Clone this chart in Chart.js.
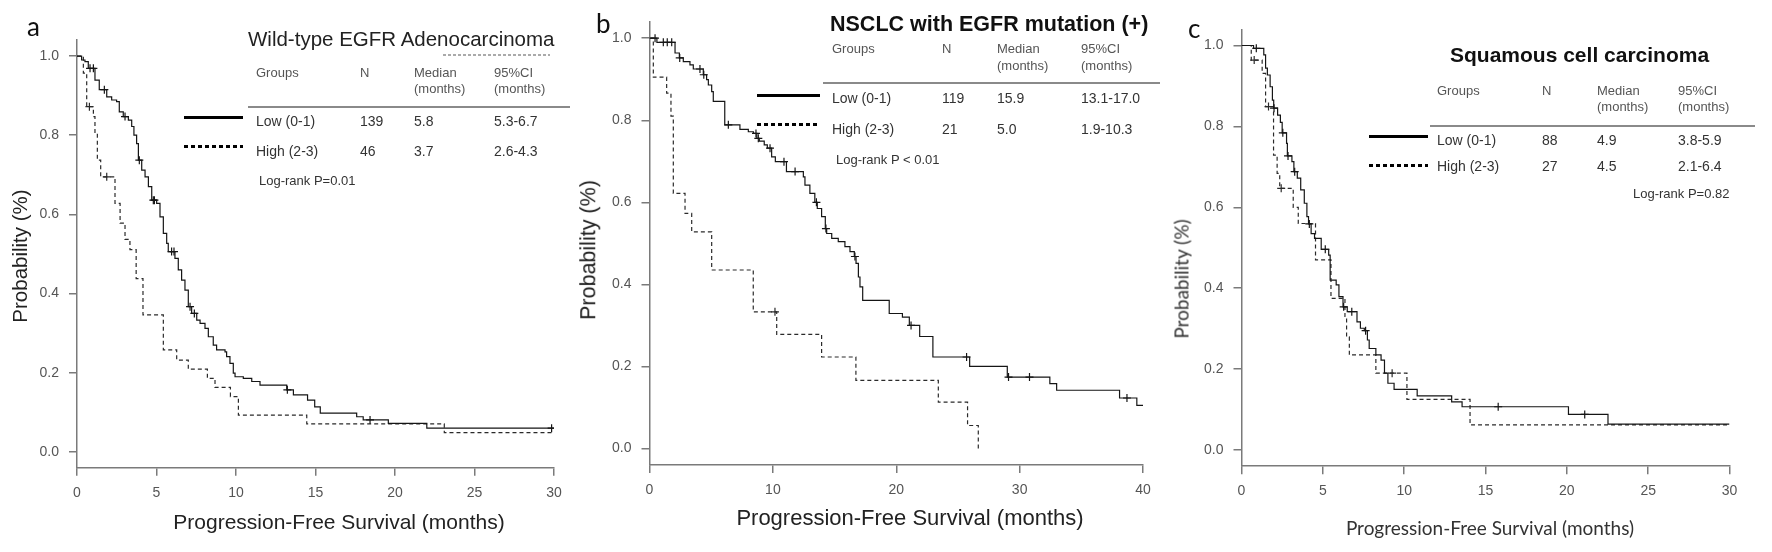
<!DOCTYPE html>
<html><head><meta charset="utf-8">
<script src="https://cdn.jsdelivr.net/npm/chart.js@4.4.1/dist/chart.umd.min.js"></script>
<style>
html,body{margin:0;padding:0;background:#fff;}
#wrap{position:relative;width:1772px;height:552px;overflow:hidden;background:#fff;}
canvas{position:absolute;top:0;}
.t{position:absolute;white-space:nowrap;line-height:1;transform:translateY(-50%);font-family:"Liberation Sans",Arial,sans-serif;color:#333;}
.ln{position:absolute;}
</style></head>
<body><div id="wrap">
<canvas id="ca" width="590" height="552" style="left:0px"></canvas>
<canvas id="cb" width="590" height="552" style="left:590px"></canvas>
<canvas id="cc" width="592" height="552" style="left:1180px"></canvas>
</div>
<script>
// ---------------- DATA ----------------
const groupLabels = ['Low (0-1)', 'High (2-3)'];
const yTicks = [0, 0.2, 0.4, 0.6, 0.8, 1.0];

// Panel a: Wild-type EGFR Adenocarcinoma
const aXTicks = [0, 5, 10, 15, 20, 25, 30];
const aLowT = [0,0.29,0.5,0.71,1.13,1.4,1.87,2.18,2.49,2.66,2.91,3.23,3.44,3.58,3.75,3.86,4.07,4.28,4.49,4.7,5.01,5.22,5.43,5.64,5.74,6.16,6.37,6.58,6.79,7.0,7.21,7.53,7.74,8.05,8.26,8.57,8.78,9.31,9.41,9.62,9.83,9.94,10.46,10.99,11.51,13.19,13.61,14.5,14.95,15.3,17.59,18.0,19.58,22.0,30];
const aLowS = [1,0.99,0.986,0.969,0.939,0.915,0.897,0.889,0.885,0.859,0.847,0.838,0.822,0.8,0.779,0.737,0.712,0.695,0.67,0.636,0.628,0.594,0.552,0.527,0.506,0.489,0.46,0.434,0.409,0.367,0.35,0.333,0.325,0.312,0.291,0.27,0.258,0.253,0.241,0.224,0.199,0.19,0.186,0.178,0.169,0.157,0.144,0.131,0.114,0.098,0.089,0.081,0.072,0.06,0.06];
const aLowCensT = [0.82,1.03,1.72,3.02,3.92,4.8,4.87,5.95,6.1,7.11,7.38,13.23,18.43,29.85];
const aLowCensS = [0.969,0.969,0.915,0.847,0.737,0.636,0.636,0.506,0.506,0.367,0.35,0.157,0.081,0.06];
const aHighT = [0,0.4,0.61,1.03,1.13,1.28,1.49,2.39,2.71,3.02,3.33,3.72,4.15,5.43,6.27,7.0,8.2,8.68,9.65,10.15,14.45,23.1,30];
const aHighS = [1,0.957,0.872,0.847,0.805,0.737,0.695,0.628,0.578,0.537,0.511,0.438,0.346,0.258,0.232,0.209,0.186,0.163,0.14,0.093,0.071,0.049,0.049];
const aHighCensT = [0.78,1.87];
const aHighCensS = [0.872,0.695];
const aN = ['139','46'], aMed = ['5.8','3.7'], aCI = ['5.3-6.7','2.6-4.3'];

// Panel b: NSCLC with EGFR mutation (+)
const bXTicks = [0, 10, 20, 30, 40];
const bLowT = [0,0.6,2.07,2.42,2.74,3.28,3.55,4.36,4.63,4.77,5.04,5.17,6.1,7.33,8.01,8.42,8.7,8.9,9.3,9.55,9.9,10.2,11.1,12.47,12.6,13.0,13.4,13.6,13.95,14.25,14.36,14.77,15.3,15.84,16.25,16.6,16.74,16.93,17.06,17.28,19.43,20.5,21.06,21.9,22.97,25.95,29.0,32.45,33.0,38.1,39.5,40];
const bLowS = [1,0.99,0.964,0.952,0.943,0.935,0.925,0.911,0.899,0.886,0.87,0.846,0.789,0.778,0.772,0.768,0.756,0.749,0.74,0.732,0.711,0.699,0.675,0.662,0.642,0.622,0.6,0.585,0.565,0.536,0.524,0.512,0.504,0.492,0.48,0.468,0.451,0.418,0.394,0.361,0.329,0.32,0.3,0.273,0.223,0.2,0.174,0.158,0.142,0.123,0.105,0.105];
const bLowCensT = [0.45,1.12,1.44,1.8,2.45,4.09,4.4,6.39,8.63,8.82,9.77,10.9,11.8,13.53,14.3,16.65,21.2,25.7,29.1,30.8,38.7];
const bLowCensS = [1.0,0.99,0.99,0.99,0.952,0.925,0.911,0.789,0.768,0.756,0.732,0.699,0.675,0.6,0.536,0.468,0.3,0.223,0.174,0.174,0.123];
const bHighT = [0,0.31,1.39,1.74,1.93,2.88,3.42,5.04,8.41,10.31,13.95,16.73,23.41,25.78,26.65];
const bHighS = [1,0.905,0.866,0.81,0.622,0.573,0.528,0.435,0.333,0.278,0.223,0.166,0.113,0.056,0];
const bHighCensT = [10.17];
const bHighCensS = [0.333];
const bN = ['119','21'], bMed = ['15.9','5.0'], bCI = ['13.1-17.0','1.9-10.3'];

// Panel c: Squamous cell carcinoma
const cXTicks = [0, 5, 10, 15, 20, 25, 30];
const cLowT = [0,0.74,1.37,1.48,1.59,1.76,1.9,1.98,2.22,2.39,2.5,2.77,2.82,3.1,3.22,3.43,3.64,3.86,4.02,4.12,4.28,4.49,4.9,5.36,5.45,5.82,5.99,6.24,6.5,7.1,7.31,7.55,7.74,7.85,8.26,8.58,8.79,9.0,9.38,10.8,12.92,13.56,20.1,22.53,30];
const cLowS = [1,0.993,0.977,0.944,0.927,0.898,0.865,0.845,0.828,0.81,0.784,0.758,0.727,0.713,0.688,0.672,0.643,0.61,0.577,0.559,0.535,0.523,0.496,0.482,0.42,0.408,0.379,0.354,0.342,0.317,0.301,0.295,0.272,0.251,0.235,0.222,0.19,0.165,0.15,0.134,0.119,0.107,0.088,0.064,0.064];
const cLowCensT = [0.91,2.0,2.54,2.86,3.27,4.17,5.15,6.28,6.78,7.63,15.78,21.1];
const cLowCensS = [0.993,0.845,0.784,0.727,0.688,0.559,0.496,0.354,0.342,0.295,0.107,0.088];
const cHighT = [0,0.6,1.27,1.48,1.97,2.19,2.35,3.18,3.49,4.55,5.5,6.36,6.46,6.63,8.26,10.17,14.05,30];
const cHighS = [1,0.964,0.931,0.849,0.729,0.684,0.647,0.6,0.56,0.47,0.375,0.33,0.28,0.235,0.19,0.125,0.062,0.062];
const cHighCensT = [0.78,1.66,2.44,9.26];
const cHighCensS = [0.964,0.849,0.647,0.19];
const cN = ['88','27'], cMed = ['4.9','4.5'], cCI = ['3.8-5.9','2.1-6.4'];

// ---------------- CHARTS ----------------
const pts = (T, S) => T.map((t, i) => ({x: t, y: S[i]}));
const TICKFONT = {family: '"Liberation Sans", Arial, sans-serif', size: 14};

function km(id, xMax, xTicks, pad, low, high, lowC, highC) {
  return new Chart(document.getElementById(id), {
    type: 'line',
    data: {datasets: [
      {data: low, stepped: true, borderColor: '#151515', borderWidth: 1.2, pointRadius: 0, fill: false},
      {data: high, stepped: true, borderColor: '#2a2a2a', borderWidth: 1.2, borderDash: [4, 3], pointRadius: 0, fill: false},
      {data: lowC, showLine: false, pointStyle: 'cross', pointRadius: 4, pointBorderWidth: 1.2, pointBorderColor: '#151515', pointBackgroundColor: '#151515'},
      {data: highC, showLine: false, pointStyle: 'cross', pointRadius: 4, pointBorderWidth: 1.2, pointBorderColor: '#2a2a2a', pointBackgroundColor: '#2a2a2a'}
    ]},
    options: {
      responsive: false, animation: false, events: [],
      layout: {padding: pad},
      plugins: {legend: {display: false}, tooltip: {enabled: false}},
      scales: {
        x: {type: 'linear', min: 0, max: xMax,
          afterBuildTicks: s => { s.ticks = xTicks.map(v => ({value: v})); },
          afterFit: s => { s.height = 60; },
          grid: {drawOnChartArea: false, drawTicks: true, tickLength: 8, color: '#7a7a7a', lineWidth: 1.5},
          border: {display: true, color: '#7a7a7a', width: 1.5},
          ticks: {padding: 9, color: '#555', font: TICKFONT, maxRotation: 0, autoSkip: false, callback: v => String(v)}},
        y: {type: 'linear', min: -0.04, max: 1.04,
          afterBuildTicks: s => { s.ticks = yTicks.map(v => ({value: v})); },
          afterFit: s => { s.width = 50; },
          grid: {drawOnChartArea: false, drawTicks: true, tickLength: 8, color: '#7a7a7a', lineWidth: 1.5},
          border: {display: true, color: '#7a7a7a', width: 1.5},
          ticks: {padding: 10, color: '#555', font: TICKFONT, autoSkip: false, callback: v => Number(v).toFixed(1)}}
      }
    }
  });
}

km('ca', 30, aXTicks, {left: 27, right: 36, top: 40.2, bottom: 24.2},
   pts(aLowT, aLowS), pts(aHighT, aHighS), pts(aLowCensT, aLowCensS), pts(aHighCensT, aHighCensS));
km('cb', 40, bXTicks, {left: 9.5, right: 37, top: 21.8, bottom: 27.1},
   pts(bLowT, bLowS), pts(bHighT, bHighS), pts(bLowCensT, bLowCensS), pts(bHighCensT, bHighCensS));
km('cc', 30, cXTicks, {left: 11.5, right: 42.5, top: 29.3, bottom: 25.8},
   pts(cLowT, cLowS), pts(cHighT, cHighS), pts(cLowCensT, cLowCensS), pts(cHighCensT, cHighCensS));

// ---------------- TEXT / TABLES ----------------
const wrap = document.getElementById('wrap');
function txt(x, y, s, style) {
  const d = document.createElement('div');
  d.className = 't';
  d.textContent = s;
  d.style.left = x + 'px'; d.style.top = y + 'px';
  Object.assign(d.style, style || {});
  wrap.appendChild(d);
  return d;
}
function box(x, y, w, h, bg) {
  const d = document.createElement('div');
  d.className = 'ln';
  Object.assign(d.style, {left: x + 'px', top: (y - h / 2) + 'px', width: w + 'px', height: h + 'px', background: bg});
  wrap.appendChild(d);
}
const SOLID = '#000';
const DOTS = 'repeating-linear-gradient(90deg,#000 0 4px,transparent 4px 7px)';

function table(L, N, Med, CI, logText) {
  const hs = {fontSize: '13px', color: '#555'};
  txt(L.cols[0], L.head[0], 'Groups', hs);
  txt(L.cols[1], L.head[0], 'N', hs);
  txt(L.cols[2], L.head[0], 'Median', hs);
  txt(L.cols[2], L.head[1], '(months)', hs);
  txt(L.cols[3], L.head[0], '95%CI', hs);
  txt(L.cols[3], L.head[1], '(months)', hs);
  box(L.line[0], L.line[2], L.line[1] - L.line[0], 2, '#8a8a8a');
  const rs = {fontSize: '14px', color: '#333'};
  for (let i = 0; i < 2; i++) {
    txt(L.cols[0], L.rows[i], groupLabels[i], rs);
    txt(L.cols[1], L.rows[i], N[i], rs);
    txt(L.cols[2], L.rows[i], Med[i], rs);
    txt(L.cols[3], L.rows[i], CI[i], rs);
  }
  box(L.leg[0], L.leg[2], L.leg[1], 3, SOLID);
  box(L.leg[0], L.leg[3], L.leg[1], 3, DOTS);
  txt(L.log[0], L.log[1], logText, {fontSize: '13px', color: '#333'});
}

// Panel a
txt(27, 25.5, 'a', {fontFamily: 'Lato, "Open Sans", sans-serif', fontSize: '26px', color: '#111'});
txt(248, 39, 'Wild-type EGFR Adenocarcinoma', {fontSize: '20.5px', color: '#222'});
box(443, 55, 107, 1.5, 'repeating-linear-gradient(90deg,#aaa 0 3px,transparent 3px 5px)');
table({cols: [256, 360, 414, 494], head: [72, 88], line: [248, 570, 107], rows: [121, 151], leg: [184, 59, 117, 146], log: [259, 180]},
      aN, aMed, aCI, 'Log-rank P=0.01');
txt(339, 521, 'Progression-Free Survival (months)', {fontSize: '21px', color: '#222', transform: 'translate(-50%,-50%)'});
txt(19.5, 256, 'Probability (%)', {fontSize: '20.5px', color: '#222', transform: 'translate(-50%,-50%) rotate(-90deg)'});

// Panel b
txt(596, 23, 'b', {fontFamily: 'Lato, "Open Sans", sans-serif', fontSize: '26px', color: '#111'});
txt(830, 24.5, 'NSCLC with EGFR mutation (+)', {fontSize: '21.5px', fontWeight: 'bold', color: '#111'});
table({cols: [832, 942, 997, 1081], head: [48, 65], line: [823, 1160, 83], rows: [98, 129], leg: [757, 63, 95, 124], log: [836, 159]},
      bN, bMed, bCI, 'Log-rank P < 0.01');
txt(910, 518, 'Progression-Free Survival (months)', {fontSize: '22px', color: '#222', transform: 'translate(-50%,-50%)'});
txt(588.5, 250, 'Probability (%)', {fontSize: '21.5px', color: '#222', transform: 'translate(-50%,-50%) rotate(-90deg)'});

// Panel c
txt(1188, 28, 'c', {fontFamily: 'Lato, "Open Sans", sans-serif', fontSize: '26px', color: '#111'});
txt(1450, 53.5, 'Squamous cell carcinoma', {fontSize: '21px', fontWeight: 'bold', color: '#111'});
table({cols: [1437, 1542, 1597, 1678], head: [90, 106], line: [1430, 1755, 126], rows: [140, 166], leg: [1369, 59, 136, 165], log: [1633, 193]},
      cN, cMed, cCI, 'Log-rank P=0.82');
txt(1490, 527, 'Progression-Free Survival (months)', {fontFamily: 'Lato, "Open Sans", sans-serif', fontSize: '19px', color: '#333', transform: 'translate(-50%,-50%)'});
txt(1181, 278.5, 'Probability (%)', {fontFamily: 'Lato, "Open Sans", sans-serif', fontSize: '19px', color: '#333', transform: 'translate(-50%,-50%) rotate(-90deg)'});
</script>
</body></html>
